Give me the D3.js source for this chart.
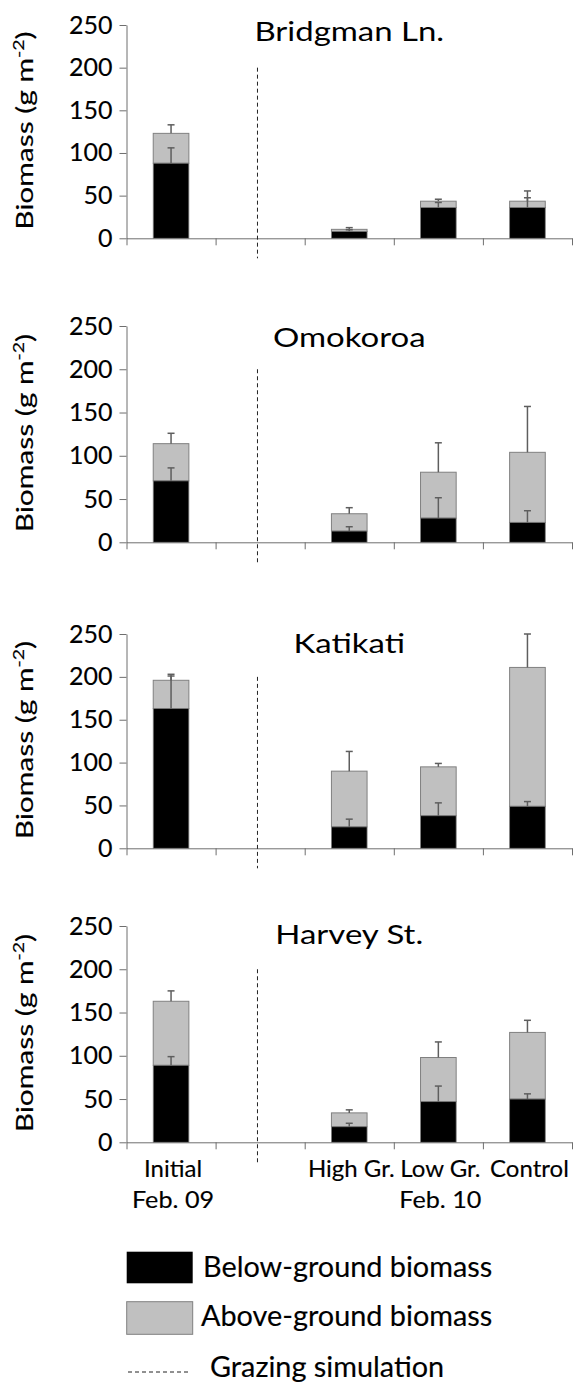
<!DOCTYPE html>
<html>
<head>
<meta charset="utf-8">
<script src="https://cdn.jsdelivr.net/npm/d3@7/dist/d3.min.js"></script>
<style>
  html, body { margin: 0; padding: 0; background: #fff; }
  svg { display: block; font-family: Lato, "Open Sans", sans-serif; }
  svg text { stroke: #000; stroke-width: 0.15px; }
  svg text.title { stroke: none; }
</style>
</head>
<body>
<svg id="chart" width="580" height="1385"></svg>
<script>
// Sites (one panel each)
const sites = ["Bridgman Ln.", "Omokoroa", "Katikati", "Harvey St."];

// Categories along the x axis; the second slot is an empty spacer
const categories = ["Initial", "gap", "High Gr.", "Low Gr.", "Control"];
const barCategories = ["Initial", "High Gr.", "Low Gr.", "Control"];
const categoryLabels = ["Initial", "", "High Gr.", "Low Gr.", "Control"];
const dateLabels = ["Feb. 09", "Feb. 10"];

// Below-ground biomass (g m-2), one row per site, one value per bar category
const belowGround = [
  [88, 8, 36, 36],
  [71, 13, 28, 23],
  [163, 25, 38, 49],
  [89, 18, 47, 50]
];
// Above-ground biomass (g m-2), stacked on top of the below-ground part
const aboveGround = [
  [35, 2.5, 7.5, 7.5],
  [43, 20, 53, 81],
  [33, 65, 57, 162],
  [74, 16, 51, 77]
];
// Standard errors (upper whiskers only)
const belowErr = [
  [18, 2, 6, 11.5],
  [15, 5, 23.5, 13.5],
  [38, 9, 15, 5.5],
  [10, 4, 18, 6]
];
const totalErr = [
  [10, 2, 2.3, 12],
  [12, 7, 34, 53],
  [7, 23, 4, 39],
  [12, 3.5, 18, 14]
];

const yTicks = [0, 50, 100, 150, 200, 250];
const yMax = 250;
const grazingStart = 200; // dashed divider starts at this value

const legendItems = ["Below-ground biomass", "Above-ground biomass", "Grazing simulation"];

// ---- layout ----
const svg = d3.select("#chart");
const xLeft = 126.5, xRight = 572;
const panelTop = [25, 326, 634, 926];              // pixel position of 250
const panelBottom = [238.3, 542.3, 848.3, 1142.3]; // pixel position of 0
const titleBaseline = [40.5, 346.5, 653, 943.5];

const axisColor = "#6e6e6e";
const errColor = "#5e5e5e";
const greyFill = "#c0c0c0";
const outline = "#808080";

// widen a text element horizontally about its anchor point
function hstretch(sel, sx) {
  sel.each(function () {
    const t = d3.select(this);
    const tx = +t.attr("x") || 0, ty = +t.attr("y") || 0;
    t.attr("x", 0).attr("y", 0)
     .attr("transform", `translate(${tx},${ty}) scale(${sx},1)`);
  });
}

const x = d3.scaleBand().domain(categories).range([xLeft, xRight]).paddingInner(0).paddingOuter(0);
const xEdges = d3.scaleLinear().domain([0, categories.length]).range([xLeft, xRight]);
const barW = x.bandwidth() * 0.4;
const capW = 7;

sites.forEach((site, p) => {
  const y = d3.scaleLinear().domain([0, yMax]).range([panelBottom[p], panelTop[p]]);
  const g = svg.append("g");

  // y axis
  const yAxis = g.append("g")
    .attr("transform", `translate(${xLeft},0)`)
    .call(d3.axisLeft(y).tickValues(yTicks).tickSize(7).tickPadding(7).tickSizeOuter(0));
  yAxis.select(".domain").attr("stroke", axisColor);
  yAxis.selectAll(".tick line").attr("stroke", axisColor);
  yAxis.selectAll(".tick text")
    .attr("font-size", 25).attr("fill", "#000")
    .attr("font-family", "Lato, sans-serif");

  // x axis with ticks between categories
  const xAxis = g.append("g")
    .attr("transform", `translate(0,${y(0)})`)
    .call(d3.axisBottom(xEdges).tickValues(d3.range(categories.length + 1))
      .tickFormat("").tickSize(7).tickSizeOuter(0));
  xAxis.select(".domain").attr("stroke", axisColor);
  xAxis.selectAll(".tick line").attr("stroke", axisColor);

  // y axis title
  const cy = (panelTop[p] + panelBottom[p]) / 2 - 1;
  const yt = g.append("text")
    .attr("transform", `translate(33,${cy}) rotate(-90) scale(1.3,1)`)
    .attr("text-anchor", "middle")
    .attr("font-size", 23)
    .attr("fill", "#000");
  yt.append("tspan").text("Biomass (g m");
  yt.append("tspan").text("-2").attr("font-size", 15).attr("dy", -9);
  yt.append("tspan").text(")").attr("dy", 9);

  // panel title
  g.append("text")
    .attr("class", "title")
    .attr("x", (xLeft + xRight) / 2)
    .attr("y", titleBaseline[p])
    .attr("text-anchor", "middle")
    .attr("font-size", 27)
    .attr("fill", "#000")
    .text(site)
    .call(hstretch, 1.22);

  // dashed divider (grazing simulation)
  const divX = x("gap") + x.bandwidth() * 0.47;
  g.append("line")
    .attr("x1", divX).attr("x2", divX)
    .attr("y1", y(grazingStart)).attr("y2", y(0) + 20)
    .attr("stroke", "#222").attr("stroke-width", 1)
    .attr("stroke-dasharray", "4,3");

  const rows = barCategories.map((c, i) => ({
    cat: c,
    below: belowGround[p][i],
    above: aboveGround[p][i],
    eBelow: belowErr[p][i],
    eTotal: totalErr[p][i]
  }));

  const bars = g.selectAll("g.bar").data(rows).join("g").attr("class", "bar");
  const bx = d => x(d.cat) + (x.bandwidth() - barW) / 2;
  const cx = d => x(d.cat) + x.bandwidth() / 2;

  // above-ground (grey) segment
  bars.append("rect")
    .attr("x", bx).attr("width", barW)
    .attr("y", d => y(d.below + d.above))
    .attr("height", d => y(d.below) - y(d.below + d.above))
    .attr("fill", greyFill).attr("stroke", outline).attr("stroke-width", 1);
  // below-ground (black) segment
  bars.append("rect")
    .attr("x", bx).attr("width", barW)
    .attr("y", d => y(d.below))
    .attr("height", d => y(0) - y(d.below))
    .attr("fill", "#000").attr("stroke", outline).attr("stroke-width", 0.8);

  // error whiskers
  const whisker = (sel, base, err) => {
    sel.append("line")
      .attr("x1", cx).attr("x2", cx)
      .attr("y1", d => y(base(d))).attr("y2", d => y(base(d) + err(d)))
      .attr("stroke", errColor).attr("stroke-width", 1.5);
    sel.append("line")
      .attr("x1", d => cx(d) - capW / 2).attr("x2", d => cx(d) + capW / 2)
      .attr("y1", d => y(base(d) + err(d))).attr("y2", d => y(base(d) + err(d)))
      .attr("stroke", errColor).attr("stroke-width", 1.5);
  };
  whisker(bars, d => d.below + d.above, d => d.eTotal);
  whisker(bars, d => d.below, d => d.eBelow);

  // category labels on the last panel only
  if (p === sites.length - 1) {
    const base = y(0);
    g.selectAll("text.cat").data(categories.filter((c, i) => categoryLabels[i]))
      .join("text").attr("class", "cat")
      .attr("x", c => x(c) + x.bandwidth() / 2 + 2)
      .attr("y", base + 35)
      .attr("text-anchor", "middle")
      .attr("font-size", 24).attr("fill", "#000")
      .text(c => categoryLabels[categories.indexOf(c)]);
    g.selectAll("text.date").data([["Initial", dateLabels[0]], ["Low Gr.", dateLabels[1]]])
      .join("text").attr("class", "date")
      .attr("x", d => x(d[0]) + x.bandwidth() / 2 + 2)
      .attr("y", base + 66)
      .attr("text-anchor", "middle")
      .attr("font-size", 24).attr("fill", "#000")
      .text(d => d[1])
      .call(hstretch, 1.05);
  }
});

// ---- legend ----
const lg = svg.append("g");
const lx = 126.7, swW = 66;
lg.append("rect").attr("x", lx).attr("y", 1251.7).attr("width", swW).attr("height", 31.6)
  .attr("fill", "#000");
lg.append("rect").attr("x", lx).attr("y", 1301.7).attr("width", swW).attr("height", 32.6)
  .attr("fill", greyFill).attr("stroke", outline).attr("stroke-width", 1);
lg.append("line").attr("x1", 128).attr("x2", 189).attr("y1", 1372).attr("y2", 1372)
  .attr("stroke", "#222").attr("stroke-width", 1).attr("stroke-dasharray", "4,3");
const legendPos = [[203, 1276.7], [201, 1326], [210, 1377]];
lg.selectAll("text").data(legendItems).join("text")
  .attr("x", (d, i) => legendPos[i][0])
  .attr("y", (d, i) => legendPos[i][1])
  .attr("font-size", 28).attr("fill", "#000")
  .text(d => d)
  .call(hstretch, 1.03);
</script>
</body>
</html>
